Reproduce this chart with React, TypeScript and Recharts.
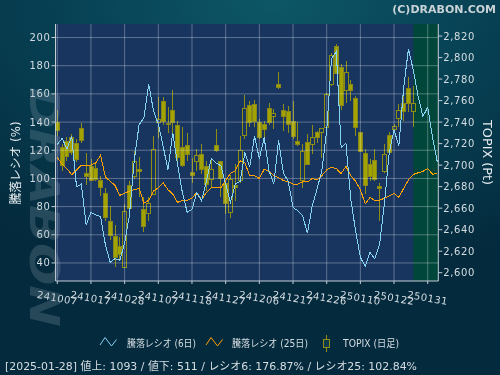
import React from "react";
import {
  ComposedChart,
  Line,
  Bar,
  XAxis,
  YAxis,
  CartesianGrid,
  ReferenceArea,
  ReferenceLine,
} from "recharts";

// trading days, 241007 .. 250204 (last 5 are estimate days)
const dates = [
  "241007","241008","241009","241010","241011","241015","241016","241017","241018","241021",
  "241022","241023","241024","241025","241028","241029","241030","241031","241101","241105",
  "241106","241107","241108","241111","241112","241113","241114","241115","241118","241119",
  "241120","241121","241122","241125","241126","241127","241128","241129","241202","241203",
  "241204","241205","241206","241209","241210","241211","241212","241213","241216","241217",
  "241218","241219","241220","241223","241224","241225","241226","241227","241230","250106",
  "250107","250108","250109","250110","250114","250115","250116","250117","250120","250121",
  "250122","250123","250124","250127","250128","250129","250130","250131","250203","250204",
];
const tickIdx = [0, 7, 14, 21, 28, 35, 42, 49, 56, 63, 70, 77];
const ratioTicks = [40, 60, 80, 100, 120, 140, 160, 180, 200];
const topixTicks = [2600, 2620, 2640, 2660, 2680, 2700, 2720, 2740, 2760, 2780, 2800, 2820];

const ratio6 = [
  124,128.5,121,130,94,96,67,76,74,73,
  53,40.5,43,42,54,74,113,138,143,167,
  148,138.5,123,106,132.5,110,90,76,78,90,
  84,98,114,111,109,96,83,96,98,118.5,
  108,130,114,129,105.5,96,127,104,98,79.5,
  77,73.5,61,80.5,92.5,105.5,134,185,190,122,
  125,85.5,63,44,37.5,47.5,43,53.5,82,118.5,
  134.5,123,164.5,192,176.87,158.5,144,150.5,129,111.5,
];
const ratio25 = [
  115,110,107,102.5,106,109.5,109.5,109.5,111,116.5,
  101,98,95,88,89.5,91,92,93,82.5,84.5,
  91,93.5,97,92,89,83,84.5,84.5,86,90,
  85,90,93.5,93.5,93.5,98.5,103.5,105.5,112.5,111,
  102,102,100,106.5,105,102,100.5,98.5,97.5,96,
  96,97.5,97.5,100,99,102,106,108,107,103.5,
  108.5,102,98,92,82,86.5,84.5,84.5,86,87.5,
  89.5,86.5,93,99,102.84,104,105,107,103,103.5,
];

// TOPIX daily
const topixOpen = [
  2740,2716,2722,2726,2720,2734,2692,2699,2697,2686,
  2674,2648,2634,2624,2605,2681,2689,2696,2659,2655,
  2673,2740,2759,2739,2751,2737,2716,2718,2693,2703,
  2710,2699,2687,2718,2703,2683,2656,2681,2686,2728,
  2755,2756,2740,2738,2753,2745,2775,2751,2750,2741,
  2722,2686,2721,2719,2730,2730,2735,2775,2810,2791,
  2769,2775,2762,2730,2711,2701,2704,2680,2694,2728,
  2733,2743,2757,2771,2750,
];
const topixHigh = [
  2751,2720,2726,2729,2724,2739,2711,2706,2701,2690,
  2679,2662,2644,2633,2664,2685,2713,2708,2670,2670,
  2727,2763,2763,2754,2770,2741,2735,2730,2707,2715,
  2720,2704,2706,2734,2704,2684,2691,2701,2727,2765,
  2760,2761,2743,2741,2758,2752,2787,2757,2755,2760,
  2740,2720,2729,2737,2732,2734,2767,2804,2813,2794,
  2797,2779,2764,2731,2715,2706,2715,2683,2720,2731,
  2738,2757,2774,2782,2774,
];
const topixLow = [
  2727,2695,2704,2709,2703,2721,2682,2685,2685,2671,
  2648,2630,2605,2611,2605,2658,2687,2670,2638,2648,
  2672,2725,2737,2730,2730,2700,2698,2704,2683,2695,
  2692,2676,2679,2712,2670,2655,2651,2667,2683,2724,
  2735,2735,2724,2721,2737,2734,2771,2732,2730,2724,
  2718,2679,2700,2710,2721,2707,2734,2774,2785,2751,
  2758,2760,2727,2712,2673,2685,2685,2648,2693,2710,
  2730,2735,2741,2749,2735,
];
const topixClose = [
  2732,2700,2708,2712,2705,2723,2689,2686,2687,2679,
  2651,2635,2614,2617,2657,2660,2703,2694,2643,2664,
  2715,2742,2741,2738,2740,2707,2700,2710,2690,2709,
  2696,2682,2696,2714,2688,2664,2687,2679,2714,2753,
  2740,2741,2726,2733,2740,2748,2772,2745,2738,2727,
  2719,2713,2701,2726,2726,2734,2766,2802,2785,2755,
  2786,2769,2735,2713,2681,2689,2687,2678,2710,2712,
  2736,2751,2750,2757,2757,
];

const data = dates.map((d, i) => {
  const has = i < topixOpen.length;
  return {
    i,
    date: d,
    r6: ratio6[i],
    r25: ratio25[i],
    open: has ? topixOpen[i] : null,
    high: has ? topixHigh[i] : null,
    low: has ? topixLow[i] : null,
    close: has ? topixClose[i] : null,
    range: has ? [topixLow[i], topixHigh[i]] : null,
  };
});

const FONT = "'DejaVu Sans', 'Noto Sans CJK JP', sans-serif";
const TXT = "#d6dde2";
const AX = "#c4ccd4";
const GRID = "rgba(255,255,255,0.3)";
const BODY = "#a3a300";
const EDGE = "#86861a";
const WICK = "#8e8e14";

function Candle(props: any) {
  const { x, y, width, height, payload } = props;
  if (!payload || payload.open == null) return null;
  const { open, close, high, low } = payload;
  const top0 = Math.min(y, y + height);
  const h = Math.abs(height);
  const k = high > low ? h / (high - low) : 0;
  const yO = top0 + (high - open) * k;
  const yC = top0 + (high - close) * k;
  const top = Math.min(yO, yC);
  const bot = Math.max(yO, yC);
  const cx = Math.round(x + width / 2) + 0.5;
  const up = close > open;
  return (
    <g shapeRendering="crispEdges">
      <line x1={cx} x2={cx} y1={top0} y2={top} stroke={WICK} />
      <line x1={cx} x2={cx} y1={bot} y2={top0 + h} stroke={WICK} />
      <rect
        x={cx - 2}
        y={top}
        width={4}
        height={Math.max(bot - top, 1.5)}
        fill={up ? "none" : BODY}
        stroke={up ? WICK : EDGE}
        strokeWidth={1}
      />
    </g>
  );
}

function XTick(props: any) {
  const { x, payload } = props;
  return (
    <g transform={`translate(${x},298)`}>
      <text
        textAnchor="middle"
        dominantBaseline="central"
        transform="rotate(10)"
        fill={TXT}
        fontSize={10}
        letterSpacing={0.5}
        fontFamily={FONT}
      >
        {dates[payload.value]}
      </text>
    </g>
  );
}

function LeftTick(props: any) {
  const { x, y, payload } = props;
  return (
    <text x={x} y={y} dy={3.5} textAnchor="end" fill={TXT} fontSize={10} letterSpacing={0.6} fontFamily={FONT}>
      {payload.value}
    </text>
  );
}

function RightTick(props: any) {
  const { x, y, payload } = props;
  return (
    <text x={x} y={y} dy={3.5} textAnchor="start" fill={TXT} fontSize={10} letterSpacing={0.6} fontFamily={FONT}>
      {Number(payload.value).toLocaleString("en-US")}
    </text>
  );
}

export default function App() {
  return (
    <div
      style={{
        position: "fixed",
        left: 0,
        top: 0,
        width: 500,
        height: 375,
        overflow: "hidden",
        background:
          "radial-gradient(ellipse 90% 75% at 55% 0%, #0d5767 0%, #084457 40%, #042a3d 100%)",
      }}
    >
      <ComposedChart
        width={500}
        height={375}
        data={data}
        margin={{ top: 24, right: 0, bottom: 0, left: 0 }}
      >
        <CartesianGrid yAxisId="left" fill="#18355f" stroke="none" />
        <ReferenceArea yAxisId="left" x1={74} x2={79.2} fill="#01463a" fillOpacity={1} stroke="none" />
        {ratioTicks.map((v) => (
          <ReferenceLine key={"h" + v} yAxisId="left" y={v} stroke={GRID} />
        ))}
        {tickIdx.map((v) => (
          <ReferenceLine key={"v" + v} yAxisId="left" x={v} stroke={GRID} />
        ))}
        <XAxis
          type="number"
          dataKey="i"
          domain={[-0.37, 79.2]}
          ticks={tickIdx}
          interval={0}
          allowDataOverflow
          height={94}
          tick={<XTick />}
          tickSize={3}
          stroke={AX}
        />
        <YAxis
          yAxisId="left"
          width={55.5}
          domain={[27.2, 209.6]}
          ticks={ratioTicks}
          interval={0}
          allowDataOverflow
          tick={<LeftTick />}
          tickSize={4}
          tickMargin={1}
          stroke={AX}
        />
        <YAxis
          yAxisId="right"
          orientation="right"
          width={61.7}
          domain={[2592.3, 2831.2]}
          ticks={topixTicks}
          interval={0}
          allowDataOverflow
          tick={<RightTick />}
          tickSize={4}
          tickMargin={1}
          stroke={AX}
        />
        <Bar
          yAxisId="right"
          dataKey="range"
          barSize={4}
          shape={<Candle />}
          isAnimationActive={false}
        />
        <Line
          yAxisId="left"
          dataKey="r25"
          stroke="#ffa200"
          strokeWidth={1}
          dot={false}
          activeDot={false}
          shapeRendering="crispEdges"
          isAnimationActive={false}
        />
        <Line
          yAxisId="left"
          dataKey="r6"
          stroke="#86d3f3"
          strokeWidth={1}
          dot={false}
          activeDot={false}
          shapeRendering="crispEdges"
          isAnimationActive={false}
        />
      </ComposedChart>

      <svg
        width={500}
        height={375}
        style={{ position: "absolute", left: 0, top: 0, pointerEvents: "none" }}
        fontFamily={FONT}
      >
        <text
          transform="translate(30,207) rotate(90)"
          textAnchor="middle"
          fontSize={40}
          fontWeight="bold"
          fontStyle="italic"
          textLength={240}
          lengthAdjust="spacingAndGlyphs"
          fill="rgba(150,175,188,0.23)"
        >
          DRABON
        </text>
        <text x={496} y={13} textAnchor="end" fontSize={11} fontWeight="bold" fill="#c9d3d7">
          (C)DRABON.COM
        </text>
        <text
          transform="translate(16,163) rotate(-90)"
          textAnchor="middle"
          dominantBaseline="central"
          fontSize={12}
          textLength={83}
          lengthAdjust="spacingAndGlyphs"
          fill="#e6ecef"
        >
          騰落レシオ (%)
        </text>
        <text
          transform="translate(487,152.5) rotate(90)"
          textAnchor="middle"
          dominantBaseline="central"
          fontSize={12}
          textLength={65}
          lengthAdjust="spacingAndGlyphs"
          fill="#e6ecef"
        >
          TOPIX (Pt)
        </text>

        <polyline points="100,345 105,337.5 111.5,346 116.5,339.5" fill="none" stroke="#86d3f3" />
        <text x={127} y={347} fontSize={10} textLength={69} lengthAdjust="spacingAndGlyphs" fill={TXT}>
          騰落レシオ (6日)
        </text>
        <polyline points="206,345 211,337.5 217.5,346 222.5,339.5" fill="none" stroke="#ffa200" />
        <text x={232} y={347} fontSize={10} textLength={76} lengthAdjust="spacingAndGlyphs" fill={TXT}>
          騰落レシオ (25日)
        </text>
        <line x1={326.5} x2={326.5} y1={335} y2={352} stroke={WICK} />
        <rect x={323.5} y={339.5} width={6} height={8} fill="#0a3a4c" stroke={WICK} />
        <text x={343} y={347} fontSize={10} textLength={56} lengthAdjust="spacingAndGlyphs" fill={TXT}>
          TOPIX (日足)
        </text>

        <text x={5} y={370} fontSize={11} textLength={412} lengthAdjust="spacingAndGlyphs" fill={TXT}>
          [2025-01-28]  値上: 1093 / 値下: 511 / レシオ6: 176.87% / レシオ25: 102.84%
        </text>
      </svg>
    </div>
  );
}
